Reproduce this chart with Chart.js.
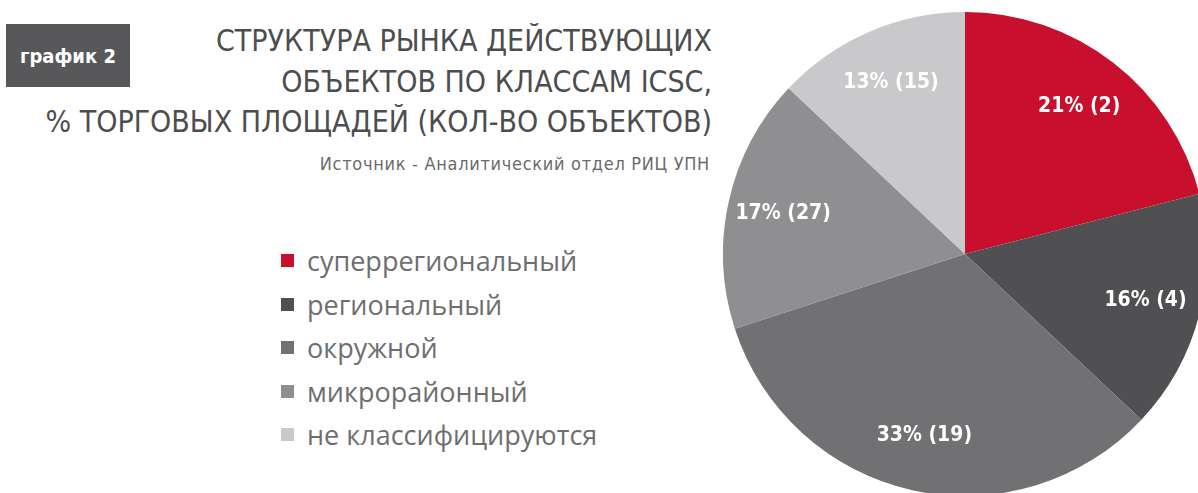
<!DOCTYPE html>
<html lang="ru">
<head>
<meta charset="utf-8">
<script src="https://cdn.jsdelivr.net/npm/chart.js@4.4.1/dist/chart.umd.min.js"></script>
<style>
  html, body { margin: 0; padding: 0; width: 1198px; height: 493px; overflow: hidden; background: #fff; }
  #badge {
    position: absolute; left: 6px; top: 24px; width: 124px; height: 63px;
    background: #58585a; color: #fff;
    font: bold 20px "DejaVu Sans Condensed", sans-serif;
    display: flex; align-items: center; justify-content: center;
  }
  .title {
    position: absolute; right: 486px; white-space: nowrap;
    font-family: "DejaVu Sans Condensed", sans-serif;
    font-size: 30px; color: #4d4d4f; line-height: 1;
  }
  #source {
    position: absolute; right: 488px; top: 153px; white-space: nowrap;
    font: 18px "DejaVu Sans Condensed", sans-serif; letter-spacing: 0.7px;
    color: #6a6a6a;
  }
  #legend { position: absolute; left: 281px; top: 239px; margin: 0; padding: 0; list-style: none; }
  #legend li {
    height: 43.5px; display: flex; align-items: center;
    font: 27px "Open Sans", sans-serif; color: #6e6e70;
  }
  #legend li span { display: inline-block; width: 13px; height: 13px; margin-right: 13px; }
  #pieWrap { position: absolute; left: 723px; top: 12px; width: 484px; height: 484px; }
</style>
</head>
<body>
<div id="badge">график 2</div>
<div class="title" style="top:26px">СТРУКТУРА РЫНКА ДЕЙСТВУЮЩИХ</div>
<div class="title" style="top:67px">ОБЪЕКТОВ ПО КЛАССАМ ICSC,</div>
<div class="title" style="top:107px">% ТОРГОВЫХ ПЛОЩАДЕЙ (КОЛ-ВО ОБЪЕКТОВ)</div>
<div id="source">Источник - Аналитический отдел РИЦ УПН</div>
<ul id="legend"></ul>
<div id="pieWrap"><canvas id="pie" width="484" height="484"></canvas></div>

<script>
// классы ICSC, доля торговых площадей (%) и число объектов
const categories = ['суперрегиональный', 'региональный', 'окружной', 'микрорайонный', 'не классифицируются'];
const shares = [21, 16, 33, 17, 13];
const objectCounts = [2, 4, 19, 27, 15];
const sliceColors = ['#c8102e', '#505052', '#717173', '#8f8f91', '#c9c9cb'];

// подписи внутри секторов: "21% (2)"
const sliceLabels = {
    id: 'sliceLabels',
    afterDatasetsDraw(chart) {
        const { ctx } = chart;
        const meta = chart.getDatasetMeta(0);
        ctx.save();
        ctx.font = 'bold 21px "DejaVu Sans Condensed", sans-serif';
        ctx.fillStyle = '#ffffff';
        ctx.textAlign = 'center';
        ctx.textBaseline = 'middle';
        meta.data.forEach((arc, i) => {
            const { x, y, startAngle, endAngle, outerRadius } = arc.getProps(['x', 'y', 'startAngle', 'endAngle', 'outerRadius'], true);
            const mid = (startAngle + endAngle) / 2;
            const r = outerRadius * 0.77;
            ctx.fillText(`${shares[i]}% (${objectCounts[i]})`, x + Math.cos(mid) * r, y + Math.sin(mid) * r);
        });
        ctx.restore();
    }
};

const chart = new Chart(document.getElementById('pie').getContext('2d'), {
    type: 'pie',
    data: {
        labels: categories,
        datasets: [{
            data: shares,
            backgroundColor: sliceColors,
            borderWidth: 0
        }]
    },
    options: {
        responsive: false,
        animation: false,
        layout: { padding: 0 },
        plugins: {
            legend: { display: false },
            tooltip: { enabled: false }
        }
    },
    plugins: [sliceLabels]
});

// легенда слева, из данных графика
const legendEl = document.getElementById('legend');
chart.data.labels.forEach((label, i) => {
    const li = document.createElement('li');
    const box = document.createElement('span');
    box.style.background = chart.data.datasets[0].backgroundColor[i];
    li.appendChild(box);
    li.appendChild(document.createTextNode(label));
    legendEl.appendChild(li);
});
</script>
</body>
</html>
